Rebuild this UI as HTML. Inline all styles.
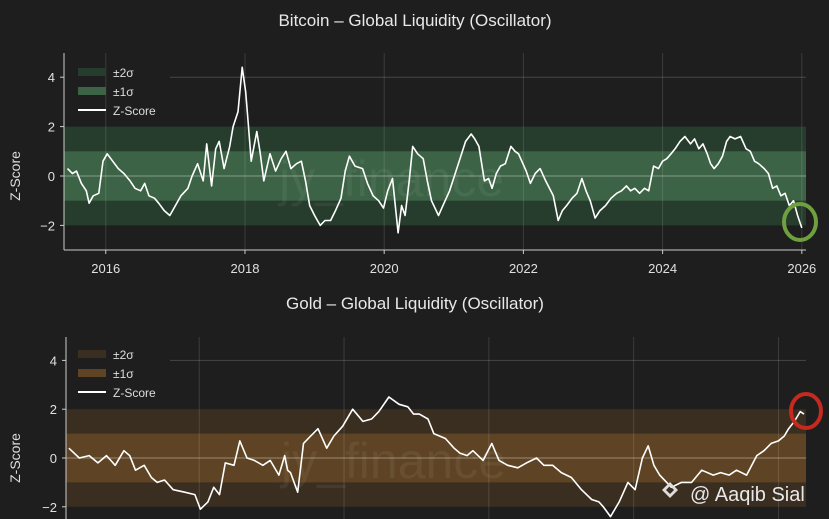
<!DOCTYPE html>
<html><head><meta charset="utf-8"><style>
html,body{margin:0;padding:0;background:#1e1e1e;}
svg{display:block;font-family:"Liberation Sans",sans-serif;}
</style></head><body>
<svg id="c" width="829" height="519" viewBox="0 0 829 519">
<rect width="829" height="519" fill="#1e1e1e"/>
<text x="415" y="26" fill="#e8e8e8" font-size="17" text-anchor="middle">Bitcoin – Global Liquidity (Oscillator)</text>
<text x="415" y="309" fill="#e8e8e8" font-size="17" text-anchor="middle">Gold – Global Liquidity (Oscillator)</text>
<g id="topPanel"></g>
<g id="botPanel"></g>
</svg>
<script>
// Bitcoin data
const btcYears=[2015.45,2015.52,2015.58,2015.65,2015.72,2015.76,2015.82,2015.9,2015.96,2016.02,2016.1,2016.18,2016.26,2016.35,2016.42,2016.5,2016.56,2016.62,2016.7,2016.76,2016.84,2016.92,2017.0,2017.08,2017.18,2017.24,2017.32,2017.4,2017.45,2017.52,2017.58,2017.63,2017.7,2017.78,2017.83,2017.9,2017.96,2018.01,2018.05,2018.09,2018.17,2018.22,2018.27,2018.36,2018.44,2018.52,2018.59,2018.66,2018.74,2018.81,2018.87,2018.93,2019.0,2019.08,2019.15,2019.23,2019.3,2019.38,2019.44,2019.5,2019.58,2019.69,2019.76,2019.84,2019.92,2019.99,2020.05,2020.12,2020.2,2020.25,2020.3,2020.36,2020.41,2020.48,2020.56,2020.62,2020.68,2020.78,2020.86,2020.94,2021.02,2021.1,2021.17,2021.25,2021.3,2021.36,2021.44,2021.5,2021.55,2021.61,2021.67,2021.74,2021.82,2021.88,2021.93,2022.04,2022.1,2022.17,2022.24,2022.32,2022.43,2022.5,2022.56,2022.62,2022.7,2022.77,2022.84,2022.9,2022.96,2023.03,2023.1,2023.18,2023.26,2023.34,2023.41,2023.48,2023.54,2023.6,2023.67,2023.74,2023.8,2023.87,2023.94,2024.0,2024.06,2024.12,2024.18,2024.25,2024.32,2024.4,2024.46,2024.52,2024.58,2024.64,2024.69,2024.74,2024.8,2024.86,2024.92,2024.97,2025.04,2025.12,2025.2,2025.26,2025.32,2025.38,2025.46,2025.52,2025.58,2025.64,2025.7,2025.76,2025.82,2025.88,2025.94,2026.0];
const btcValues=[0.3,0.1,0.2,-0.3,-0.6,-1.1,-0.8,-0.7,0.6,0.9,0.6,0.3,0.1,-0.2,-0.5,-0.6,-0.3,-0.8,-0.9,-1.1,-1.4,-1.6,-1.2,-0.8,-0.5,0.0,0.5,-0.2,1.3,-0.4,1.1,1.4,0.3,1.2,2.0,2.6,4.4,3.4,2.0,0.6,1.8,0.9,-0.2,0.9,0.2,0.7,1.0,0.3,0.5,0.6,-0.2,-1.2,-1.6,-2.0,-1.8,-1.8,-1.4,-0.9,0.2,0.8,0.4,0.3,-0.3,-0.8,-1.0,-1.3,-0.6,-0.1,-2.3,-1.2,-1.6,-0.2,1.2,0.9,0.7,-0.2,-1.0,-1.6,-1.1,-0.6,0.1,0.8,1.4,1.7,1.5,1.2,-0.2,-0.1,-0.5,0.1,0.4,0.5,1.2,1.0,0.9,0.2,-0.3,0.1,0.3,-0.2,-0.8,-1.8,-1.4,-1.2,-0.9,-0.7,-0.1,-0.6,-1.0,-1.7,-1.4,-1.2,-0.9,-0.7,-0.6,-0.4,-0.6,-0.5,-0.7,-0.5,-0.6,0.4,0.3,0.6,0.7,0.9,1.1,1.4,1.6,1.3,1.5,1.1,1.3,0.9,0.5,0.3,0.5,0.8,1.4,1.6,1.5,1.6,1.1,1.0,0.6,0.5,0.3,0.1,-0.5,-0.4,-0.8,-0.7,-1.2,-1.0,-1.6,-2.1];
const btcTicksX=[2016,2018,2020,2022,2024,2026];
const ticksY=[4,2,0,-2];
// Gold data
const goldYears=[2000.5,2000.86,2001.2,2001.5,2001.8,2002.1,2002.4,2002.6,2002.8,2003.1,2003.35,2003.55,2003.8,2004.1,2004.5,2004.85,2005.04,2005.3,2005.5,2005.7,2005.9,2006.2,2006.4,2006.65,2006.9,2007.2,2007.45,2007.75,2007.95,2008.05,2008.15,2008.4,2008.6,2008.85,2009.1,2009.4,2009.65,2009.95,2010.3,2010.65,2010.95,2011.2,2011.55,2011.9,2012.2,2012.4,2012.6,2012.9,2013.1,2013.5,2013.8,2014.0,2014.25,2014.45,2014.8,2015.1,2015.35,2015.65,2016.0,2016.3,2016.65,2016.9,2017.2,2017.5,2017.85,2018.2,2018.55,2018.8,2018.95,2019.2,2019.5,2019.8,2020.05,2020.3,2020.5,2020.7,2020.9,2021.3,2021.65,2022.0,2022.35,2022.75,2023.0,2023.3,2023.55,2023.9,2024.25,2024.5,2024.75,2025.0,2025.2,2025.35,2025.55,2025.75,2025.88];
const goldValues=[0.4,0.0,0.1,-0.2,0.1,-0.3,0.3,0.1,-0.5,-0.3,-0.8,-1.0,-0.9,-1.3,-1.4,-1.5,-2.1,-1.8,-1.2,-1.5,-0.2,-0.3,0.7,0.0,-0.1,-0.3,-0.1,-0.7,0.1,-0.5,-0.6,-1.4,0.6,0.9,1.2,0.4,0.9,1.3,2.0,1.5,1.6,1.9,2.5,2.2,2.1,1.8,1.8,1.6,1.0,0.8,0.4,0.2,0.1,0.3,-0.1,0.6,-0.1,-0.3,-0.4,-0.2,0.0,-0.3,-0.3,-0.6,-0.8,-1.3,-1.7,-1.8,-2.0,-2.4,-1.8,-1.0,-1.3,0.0,0.5,-0.3,-0.7,-1.2,-1.0,-1.0,-0.5,-0.7,-0.6,-0.7,-0.5,-0.7,0.1,0.3,0.6,0.7,0.9,1.2,1.5,1.9,1.8];
const goldTicksX=[2005,2010,2015,2020,2025];

const NS="http://www.w3.org/2000/svg";
function mk(p,tag,a){const e=document.createElementNS(NS,tag);for(const k in a)e.setAttribute(k,a[k]);p.appendChild(e);return e;}

function drawPanel(g,cfg){
  const L=cfg.left,R=806,T=cfg.top,B=cfg.bottom;
  const xs=v=>L+(v-cfg.x0)/(cfg.x1-cfg.x0)*(R-L);
  const ys=v=>cfg.y0-v*cfg.unit;
  let e;
  e=mk(g,'rect',{x:L,y:ys(2),width:R-L,height:ys(-2)-ys(2),fill:cfg.outer});
  
  
  e=mk(g,'rect',{x:L,y:ys(1),width:R-L,height:ys(-1)-ys(1),fill:cfg.inner});
  
  
  cfg.xt.forEach(t=>{
    e=mk(g,'line',{x1:xs(t),x2:xs(t),y1:T,y2:B,stroke:'rgba(255,255,255,0.13)','stroke-width':1});
    
    
  });
  e=mk(g,'line',{x1:170,x2:R,y1:ys(4),y2:ys(4),stroke:'rgba(255,255,255,0.18)','stroke-width':1});
  
  
  e=mk(g,'line',{x1:L,x2:R,y1:ys(0),y2:ys(0),stroke:'rgba(255,255,255,0.25)','stroke-width':1.5});
  
  
  e=mk(g,'text',{x:L+215,y:ys(0)+20,fill:'rgba(255,255,255,0.06)','font-size':50});
  e.textContent='jy_finance';
  
  
  ticksY.forEach(t=>{
    e=mk(g,'text',{x:L-9,y:ys(t)+5,fill:'#e0e0e0','font-size':13,'text-anchor':'end'});
    e.textContent=t<0?'−'+(-t):t;
    
    
    mk(g,'line',{x1:L-4,x2:L,y1:ys(t),y2:ys(t),stroke:'#ccc'});
  });
  e=mk(g,'line',{x1:L,x2:L,y1:T,y2:B,stroke:'#ccc','stroke-width':1});
  
  
  e=mk(g,'text',{x:20,y:ys(0),fill:'#ddd','font-size':14,'text-anchor':'middle',transform:'rotate(-90 20 '+ys(0)+')'});
  e.textContent='Z-Score';
  
  
  if(cfg.xlabels){
    e=mk(g,'line',{x1:L,x2:R,y1:B,y2:B,stroke:'#ccc'});
    
    
    cfg.xt.forEach(t=>{
      mk(g,'line',{x1:xs(t),x2:xs(t),y1:B,y2:B+4,stroke:'#ccc'});
      e=mk(g,'text',{x:xs(t),y:B+23,fill:'#e0e0e0','font-size':13,'text-anchor':'middle'});
      e.textContent=t;
      
      
    });
  }
  let d='';
  const n=Math.min(cfg.xv.length,cfg.yv.length);
  for(let i=0;i<n;i++){d+=(i?'L':'M')+xs(cfg.xv[i]).toFixed(1)+' '+ys(cfg.yv[i]).toFixed(1);}
  e=mk(g,'path',{d:d,fill:'none',stroke:'#fff','stroke-width':1.6,'stroke-linejoin':'round'});
  
  
  const lx=78,ly=cfg.legY;
  e=mk(g,'rect',{x:lx,y:ly-4,width:28,height:8,fill:cfg.outer});
  
  
  e=mk(g,'text',{x:lx+35,y:ly+5,fill:'#ddd','font-size':12});e.textContent='±2σ';
  
  
  e=mk(g,'rect',{x:lx,y:ly+15,width:28,height:8,fill:cfg.inner});
  
  
  e=mk(g,'text',{x:lx+35,y:ly+24,fill:'#ddd','font-size':12});e.textContent='±1σ';
  
  
  e=mk(g,'line',{x1:lx,x2:lx+28,y1:ly+38,y2:ly+38,stroke:'#fff','stroke-width':2});
  
  
  e=mk(g,'text',{x:lx+35,y:ly+43,fill:'#ddd','font-size':12});e.textContent='Z-Score';
  
  
}
const topG=document.getElementById('topPanel'),botG=document.getElementById('botPanel');
drawPanel(topG,{left:64,top:53,bottom:250,x0:2015.4,x1:2026.06,y0:176,unit:24.7,outer:'#263c2c',inner:'#3c6345',xt:btcTicksX,xv:btcYears,yv:btcValues,xlabels:true,legY:72});
drawPanel(botG,{left:66,top:337,bottom:519,x0:2000.4,x1:2025.95,y0:458,unit:24.4,outer:'#3a2e20',inner:'#5e4424',xt:goldTicksX,xv:goldYears,yv:goldValues,xlabels:false,legY:354});
let el;
el=mk(topG,'ellipse',{cx:800,cy:222,rx:16,ry:18,fill:'none',stroke:'#6fa040','stroke-width':4});


el=mk(botG,'ellipse',{cx:806,cy:411,rx:15,ry:17,fill:'none',stroke:'#c62a1e','stroke-width':4});


el=mk(botG,'text',{x:690,y:501,fill:'#e8e8e8','font-size':20});el.textContent='@ Aaqib Sial';


el=mk(botG,'path',{d:'M670 482 l8 8 l-8 8 l-8 -8 z M670 486 l4 4 l-4 4 l-4 -4 z',fill:'#ddd','fill-rule':'evenodd'});


</script>
</body></html>
